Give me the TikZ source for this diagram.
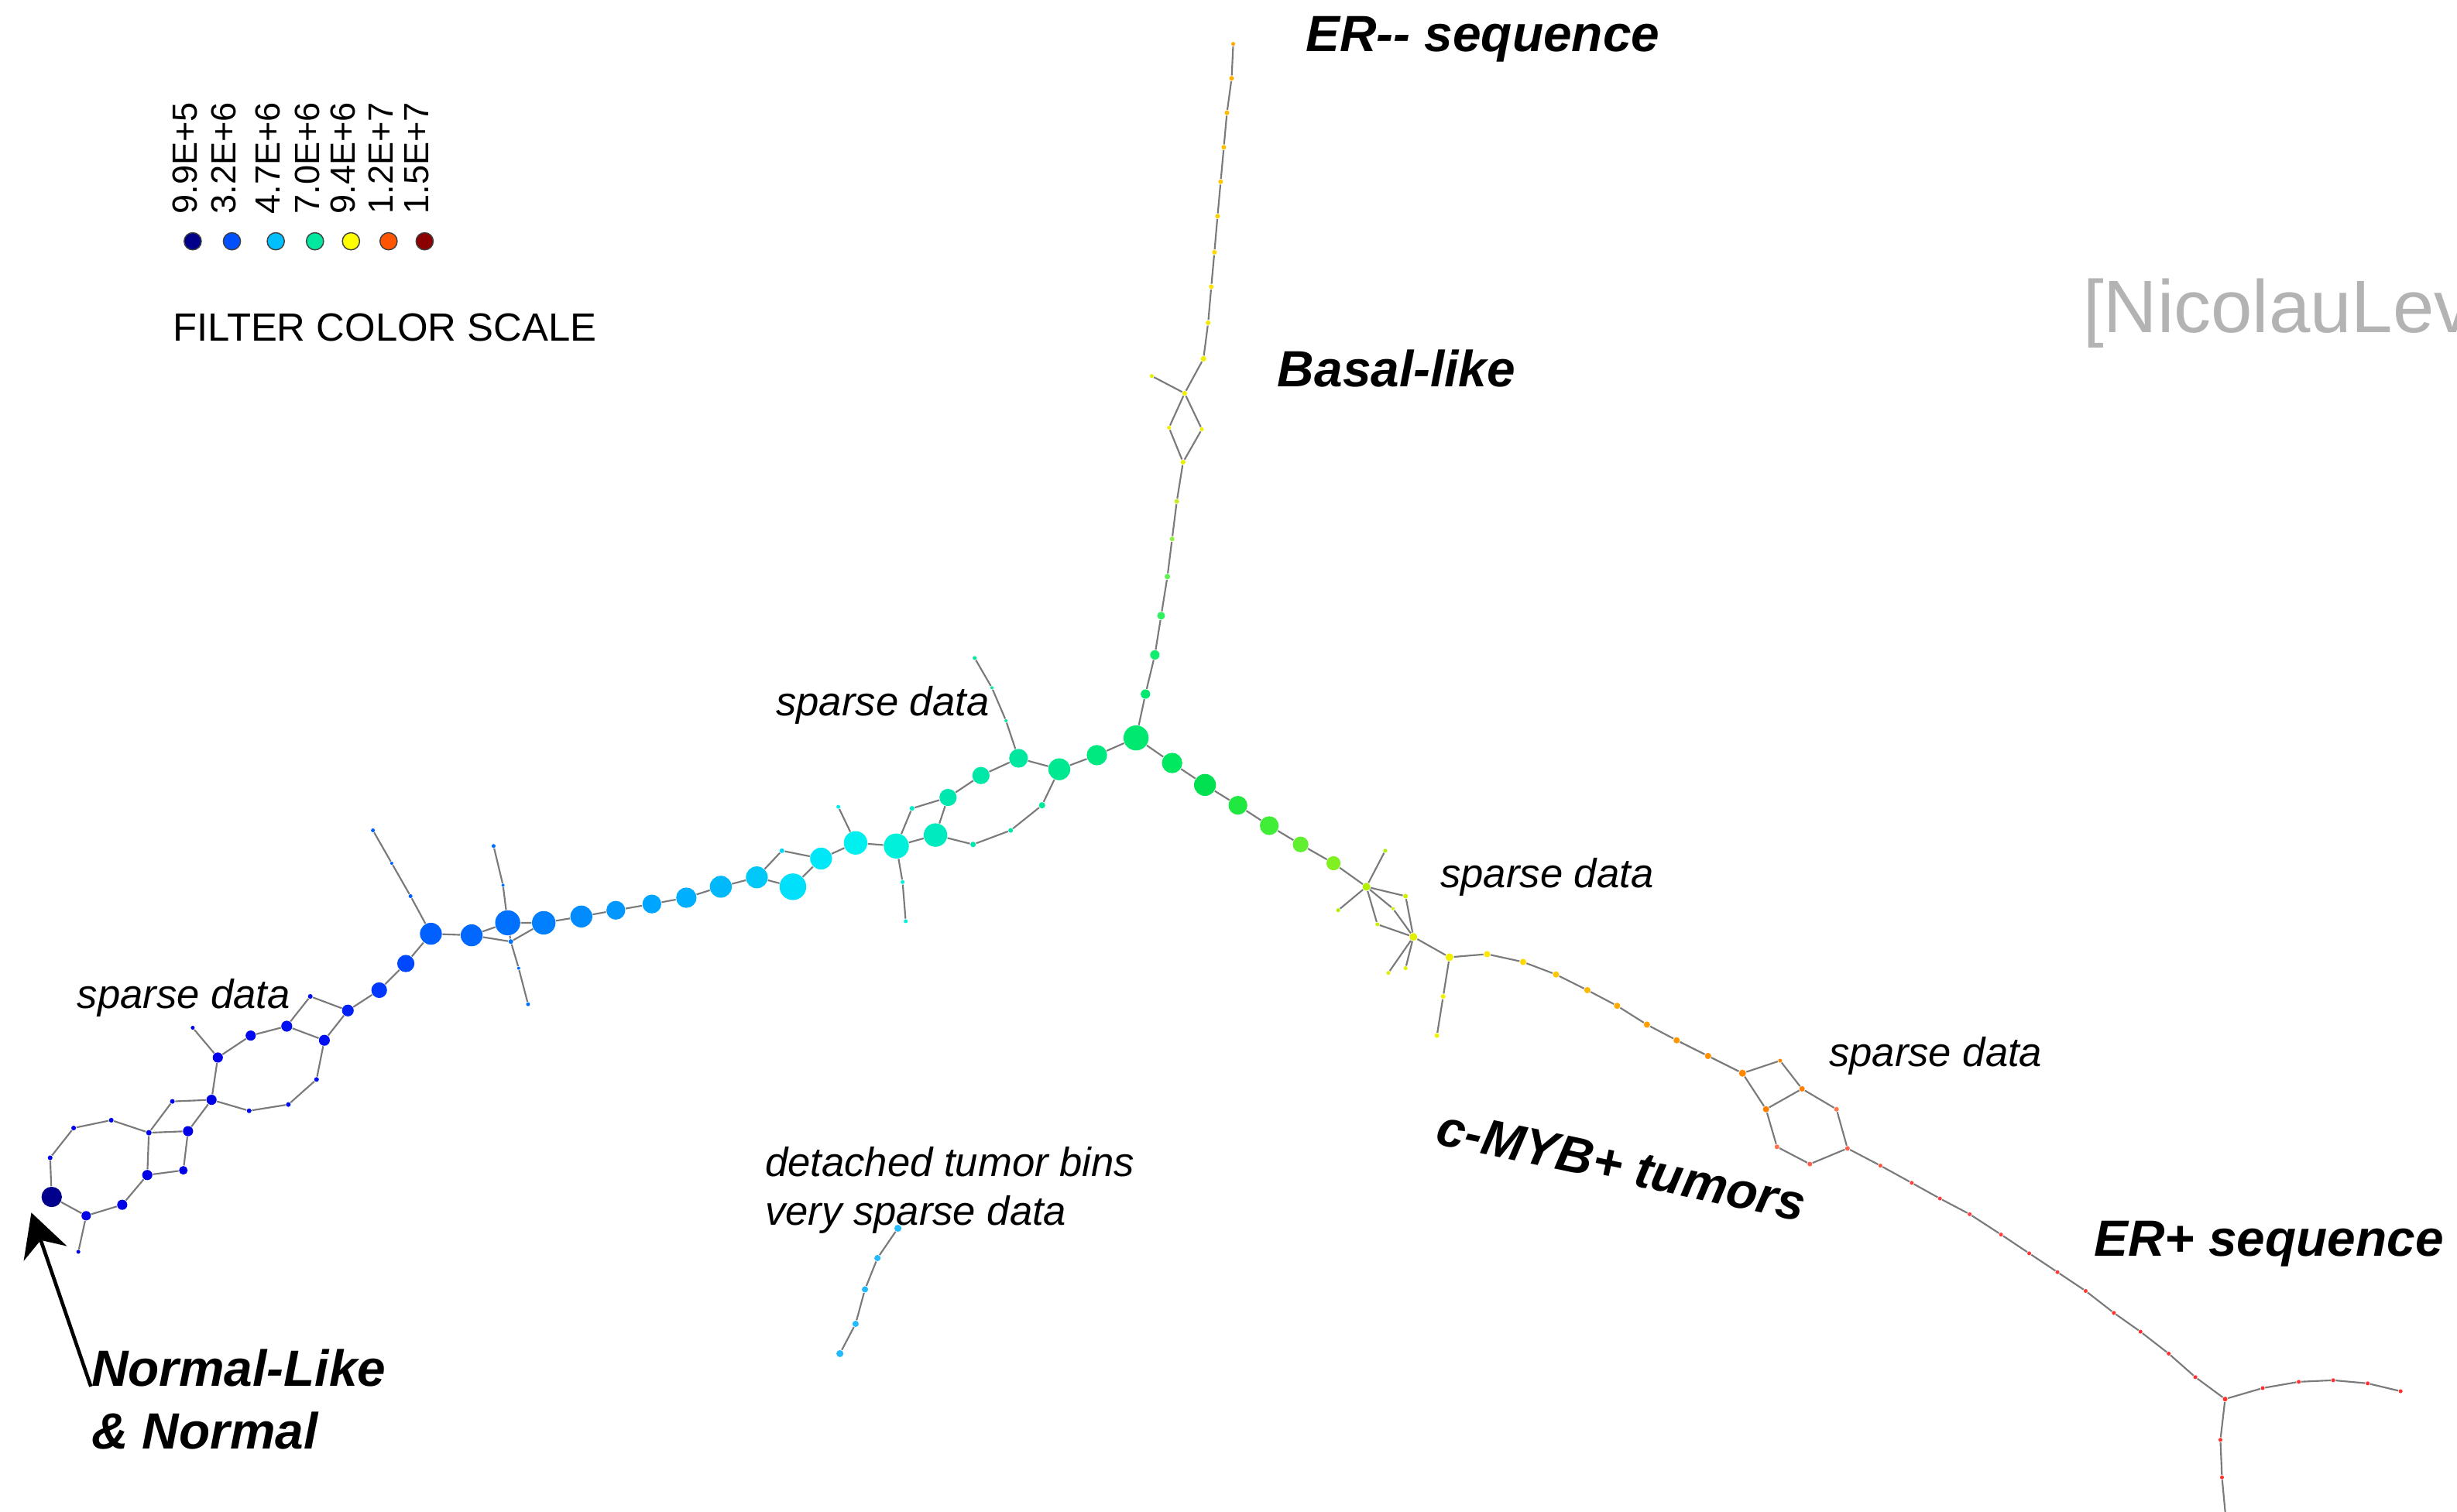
\documentclass[tikz,border=0pt]{standalone}
\usepackage{fontspec}
\setmainfont{Liberation Sans}
\usetikzlibrary{arrows.meta}
\definecolor{lvedge}{HTML}{7A7A7A}
\definecolor{lvgrey}{HTML}{B3B3B3}
\tikzset{
bin/.style={circle,inner sep=0pt,minimum size=#1*0.2mm,fill=binfill},
key/.style={circle,draw=black!75,line width=0.4pt,inner sep=0pt,minimum size=11*0.2mm,fill=keyfill},
keylabel/.style={rotate=90,anchor=west,inner sep=0pt,font={\fontsize{12.7pt}{15pt}\selectfont}},
link/.style={draw=lvedge,line width=0.6pt},
tag/.style={anchor=base west,inner sep=0pt,font={\fontsize{18.5pt}{22pt}\selectfont\bfseries\itshape}},
note/.style={anchor=west,inner sep=0pt,font={\fontsize{14.8pt}{18pt}\selectfont\itshape}},
pointer/.style={-{Stealth[length=0.55cm,width=0.58cm]},line width=1.3pt}
}

\begin{document}
\begin{tikzpicture}[x=0.02cm,y=-0.02cm]
  \useasboundingbox (0,0) rectangle (1568,965);
  \clip (0,0) rectangle (1568,965);
  % colour key
  \foreach \v/\x/\c [count=\i] in {9.9E+5/123/00008B, 3.2E+6/148/0050FF, 4.7E+6/176/00BFFF,
      7.0E+6/201/00E8A0, 9.4E+6/224/FFFF00, 1.2E+7/248/FF5500, 1.5E+7/271/8B0000}{
    \definecolor{keyfill}{HTML}{\c}
    \node[key] (key\i) at (\x,154) {};
    \node[keylabel] (val\i) at (\x-5,137) {\v};
  }
  \node[anchor=west,inner sep=0pt,font={\fontsize{14.3pt}{17pt}\selectfont}] (scale) at (110,209) {FILTER COLOR SCALE};
  \node[anchor=base west,inner sep=0pt,text=lvgrey,font={\fontsize{27pt}{32pt}\selectfont}] (cite) at (1329,212) {[NicolauLev};

  % bins: name/x/y/size/colour
  \foreach \n/\x/\y/\d/\c in {
    n0/33/764/13/00008C, l1/55/776/6/0000E6, l1t/50/799/2.5/0000F0, l2/78/769/6.5/0000E6,
    l3/94/750/6.5/0000E6, l4/117/747/5.5/0000E6, l5/120/722/6.5/0000E6, l6/95/723/3.5/0000F0,
    l7/110/703/3/0000F0, t1/32/739/3/0000F0, t2/47/720/3/0000F0, t3/71/715/3/0000F0,
    m1/135/702/6.5/0000E6, m2/139/675/6.5/0000EC, m2t/123/656/2.5/0000F0, m3/160/661/6.5/0008EE,
    m4/183/655/7/0010F0, q1/198/636/3/0010F0, m5/207/664/7/0010F0, m6/222/645/7.5/0020F5,
    m7/202/689/3/0010F0, m8/184/705/3/0010F0, m9/159/709/3/0008F0,
    a1/242/632/10/0038FF, a2/259/615/11/0048FF, a3/275/596/14/0060FF,
    a3t1/262/572/2.5/0060FF, a3t2/250/551/2/0060FF, a3t3/238/530/2.5/0060FF,
    a4/301/597/14/0068FF, a5/324/589/16/0070FF, xh/326/601/3/0070FF,
    a5u1/321/565/2/0070FF, a5u2/315/540/2.5/0070FF, a5d1/331/618/2/0070FF, a5d2/337/641/2.5/0070FF,
    a6/347/589/15/0080FF, a7/371/585/14/008CFF, a8/393/581/12/0098FF, a9/416/577/12/00A5FF,
    a10/438/573/13/00B0FF, a11/460/566/14/00B8FA, a12/483/560/14/00C8F8, j1/499/543/3/00D8F8,
    a13/506/566/17/00E0FA, a14/524/548/14/00E8F8, a15/546/538/15/00F0F0, a15t/535/515/2.5/00F0F0,
    a16/572/540/16/00F0DC, a16d1/576/563/2.5/00F0DC, a16d2/578/588/2.5/00F0DC, j2/582/516/3/00ECC8,
    a17/597/533/15/00EAC0, a18/605/509/11/00E8B0, a19/626/495/11/00E8A8, a20/650/484/12/00E8A0,
    a20t1/642/460/2/00E8A0, a20t2/633/439/2/00E8A0, a20t3/622/420/2.5/00E8A0,
    p1/621/539/3.5/00E8B0, p2/645/530/3/00E8A8, p3/665/514/4/00E8A0,
    a21/676/491/14/00E890, a22/700/482/13/00E880, hub/725/471/16/00E870,
    b1/748/487/13/00E860, b2/769/501/14/00E050, b3/790/514/12/20E840, b4/810/527/12/40EE38,
    b5/830/539/10/60F030, b6/851/551/9/80F020, c0/872/566/5/B0F000,
    c0u/884/543/2.5/B0F000, c0l/854/581/2.5/B0F000, cr/897/572/3/D0F000, cm/889/580/2/D0F000,
    cl/879/590/2.5/D0F000, d0/902/598/5/E0F000, d0l1/886/621/2.5/E0F000, d0l2/897/618/2.5/E0F000,
    e0/925/611/5/F0F000, e0d1/921/636/3/F0F000, e0d2/917/661/3/F0F000,
    f1/949/609/4/FFE800, f2/972/614/4/FFD800, f3/993/622/4/FFC800, f4/1013/632/4/FFB800,
    f5/1032/642/4/FFAA00, f6/1051/654/4/FFA000, f7/1070/664/4/FF9800, f8/1090/674/4/FF9000,
    g0/1112/685/4.5/FF8800, g1/1136/677/2.5/FF8800, g2/1150/695/3.5/FF8000, g3/1127/708/4/FF8000,
    g4/1172/708/3/FF7850, g5/1179/733/3/FF6050, g6/1134/732/3/FF7050, g7/1155/743/3/FF6050,
    r1/1200/744/2.5/FF5040, r2/1220/755/2.5/FF4040, r3/1238/765/2.5/FF4040, r4/1257/775/2.5/FF4040,
    r5/1277/788/2.5/FF4040, r6/1295/800/2.5/FF3838, r7/1313/812/2.5/FF3838, r8/1331/824/2.5/FF3838,
    r9/1349/838/2.5/FF3030, r10/1366/850/2.5/FF3030, r11/1384/864/2.5/FF3030, r12/1401/879/2.5/FF3030,
    k0/1420/893/3/FF3030, s1/1444/886/2.5/FF3030, s2/1467/882/2.5/FF3030, s3/1489/881/2.5/FF3030,
    s4/1511/883/2.5/FF3030, s5/1532/888/2.5/FF3030, z1/1417/919/2.5/FF3030, z2/1418/943/2.5/FF3030,
    u1/731/443/6/00E870, u2/737/418/6/10EE70, u3/741/393/5/30F060, u4/745/368/3.5/60F050,
    u5/748/344/3/90F040, u6/751/320/3/C0F020, v0/755/295/3/E8F000, vl/746/273/2.5/F0F000,
    vr/767/274/2.5/F0F000, vt/756/251/3/F0F000, vtt/735/240/2.5/E0F000,
    w1/768/229/3.5/EFEF00, w2/771/206/3/F5E800, w3/773/183/3/FFE000, w4/775/161/3/FFD800,
    w5/777/138/3/FFD000, w6/779/116/3/FFC800, w7/781/94/3/FFC000, w8/783/72/3/FFB800,
    w9/786/50/3/FFB000, w10/787/28/2.5/FFA800,
    x1/573/784/4.5/22BBFF, x2/560/803/4/22BBFF, x3/552/823/4/22BBFF, x4/546/845/4/22BBFF,
    x5/536/864/4.5/22BBFF}{
    \definecolor{binfill}{HTML}{\c}
    \node[bin=\d] (\n) at (\x,\y) {};
  }
  \coordinate (zend) at (1421,975);

  % links
  \draw[link] (n0)--(l1)--(l2)--(l3)--(l4)--(l5)--(m1)--(m2)--(m3)--(m4)--(q1)--(m6)--(a1)--(a2)--(a3)--(a4)--(a5)--(a6)--(a7)--(a8)--(a9)--(a10)--(a11)--(a12)--(a13)--(a14)--(a15)--(a16)--(a17)--(a18)--(a19)--(a20)--(a21)--(a22)--(hub);
  \draw[link] (l1)--(l1t);
  \draw[link] (l3)--(l6)--(l5);
  \draw[link] (l6)--(t3)--(t2)--(t1)--(n0);
  \draw[link] (l6)--(l7)--(m1);
  \draw[link] (m2)--(m2t);
  \draw[link] (m4)--(m5)--(m6);
  \draw[link] (m5)--(m7)--(m8)--(m9)--(m1);
  \draw[link] (a3)--(a3t1)--(a3t2)--(a3t3);
  \draw[link] (a4)--(xh)--(a6);
  \draw[link] (a5u2)--(a5u1)--(a5)--(xh)--(a5d1)--(a5d2);
  \draw[link] (a12)--(j1)--(a14);
  \draw[link] (a15)--(a15t);
  \draw[link] (a16)--(a16d1)--(a16d2);
  \draw[link] (a16)--(j2)--(a18);
  \draw[link] (a20)--(a20t1)--(a20t2)--(a20t3);
  \draw[link] (a17)--(p1)--(p2)--(p3)--(a21);
  \draw[link] (hub)--(b1)--(b2)--(b3)--(b4)--(b5)--(b6)--(c0)--(cr)--(d0)--(e0)--(f1)--(f2)--(f3)--(f4)--(f5)--(f6)--(f7)--(f8)--(g0)--(g1)--(g2)--(g4)--(g5)--(r1)--(r2)--(r3)--(r4)--(r5)--(r6)--(r7)--(r8)--(r9)--(r10)--(r11)--(r12)--(k0)--(s1)--(s2)--(s3)--(s4)--(s5);
  \draw[link] (c0)--(cm)--(d0);
  \draw[link] (c0)--(cl)--(d0);
  \draw[link] (c0u)--(c0)--(c0l);
  \draw[link] (d0l1)--(d0)--(d0l2);
  \draw[link] (e0)--(e0d1)--(e0d2);
  \draw[link] (g0)--(g3)--(g6)--(g7)--(g5);
  \draw[link] (g3)--(g2);
  \draw[link] (k0)--(z1)--(z2)--(zend);
  \draw[link] (hub)--(u1)--(u2)--(u3)--(u4)--(u5)--(u6)--(v0)--(vl)--(vt)--(w1)--(w2)--(w3)--(w4)--(w5)--(w6)--(w7)--(w8)--(w9)--(w10);
  \draw[link] (v0)--(vr)--(vt)--(vtt);
  \draw[link] (x1)--(x2)--(x3)--(x4)--(x5);

  % labels
  \node[tag] (erneg) at (833,33) {ER-{}- sequence};
  \node[tag] (basal) at (815,247) {Basal-like};
  \node[tag] (erpos) at (1336,802) {ER+ sequence};
  \node[tag,anchor=center,rotate=-12] (myb) at (1035,744) {c-MYB+ tumors};
  \node[tag] (normal) at (58,885) {Normal-Like};
  \node[tag] (normal2) at (58,925) {\& Normal};
  \node[note] (sparse1) at (495,450) {sparse data};
  \node[note] (sparse2) at (49,637) {sparse data};
  \node[note] (sparse3) at (919,560) {sparse data};
  \node[note] (sparse4) at (1167,674) {sparse data};
  \node[note,anchor=base west] (detached) at (488,751) {detached tumor bins};
  \node[note,anchor=base west] (detached2) at (488,782) {very sparse data};
  \coordinate (tip) at (20,774);
  \draw[pointer] (normal.base west) -- (tip);
\end{tikzpicture}
\end{document}
